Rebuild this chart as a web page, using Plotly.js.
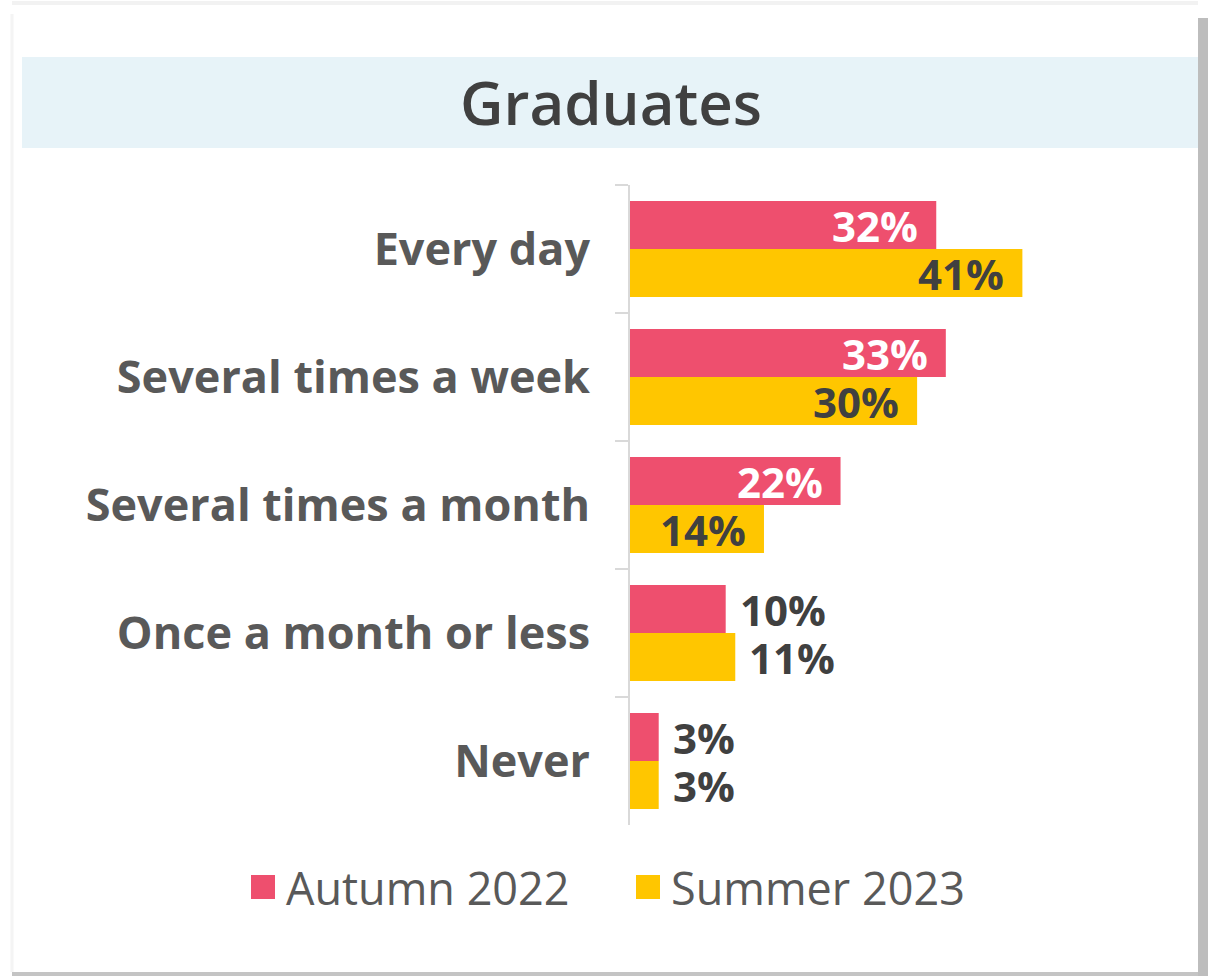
<!DOCTYPE html>
<html>
<head>
<meta charset="utf-8">
<script src="https://cdn.plot.ly/plotly-3.0.1.min.js"></script>
<style>
html,body{margin:0;padding:0;background:#fff;}
#chart{width:1208px;height:976px;}
</style>
</head>
<body>
<div id="chart"></div>
<script>
// ---- data ----
const categories = ["Every day", "Several times a week", "Several times a month", "Once a month or less", "Never"];
const seriesNames = ["Autumn 2022", "Summer 2023"];
const autumn2022 = [32, 33, 22, 10, 3];
const summer2023 = [41, 30, 14, 11, 3];
const chartTitle = "Graduates";

// ---- styling ----
const W = 1208, H = 976;
const M = {l: 630, r: 10, t: 185, b: 151};
const colors = ["#EE4F6E", "#FFC600"];
const insideColors = ["#FFFFFF", "#404040"];
const FONT = "Open Sans, sans-serif";
const valueSize = 42;
const catSize = 45;
const plotW = W - M.l - M.r, plotH = H - M.t - M.b;
const px2x = px => (px - M.l) / plotW;
const px2y = py => 1 - (py - M.t) / plotH;

const series = [autumn2022, summer2023];
const traces = series.map((vals, i) => ({
  type: "bar",
  orientation: "h",
  name: seriesNames[i],
  y: categories,
  x: vals,
  marker: {color: colors[i]},
  showlegend: false,
  hoverinfo: "skip"
}));

const annotations = [];
series.forEach((vals, i) => {
  vals.forEach((v, j) => {
    const inside = v > 12;
    annotations.push({
      x: v, y: categories[j], xref: "x", yref: "y",
      text: "<b>" + v + "%</b>",
      showarrow: false,
      height: 46, valign: "middle",
      xanchor: inside ? "right" : "left",
      xshift: inside ? -16 : 12,
      yshift: i === 0 ? 24 : -24,
      font: {family: FONT, size: valueSize, color: inside ? insideColors[i] : "#404040"}
    });
  });
});

// manual legend
const legendX = [251, 636];
const legendY = 887;
const shapes = [
  // title banner
  {type: "rect", xref: "paper", yref: "paper", x0: px2x(22), x1: px2x(1200), y0: px2y(148), y1: px2y(57),
   fillcolor: "#E7F3F8", line: {width: 0}, layer: "below"},
  // frame shadow right
  {type: "rect", xref: "paper", yref: "paper", x0: px2x(1198), x1: px2x(1208), y0: px2y(976), y1: px2y(18),
   fillcolor: "#BDBDBD", line: {width: 0}, layer: "below"},
  // frame shadow bottom
  {type: "rect", xref: "paper", yref: "paper", x0: px2x(12), x1: px2x(1198), y0: px2y(976), y1: px2y(972),
   fillcolor: "#C4C4C4", line: {width: 0}, layer: "below"},
  // faint top/left edges
  {type: "line", xref: "paper", yref: "paper", x0: px2x(12), x1: px2x(1198), y0: px2y(3), y1: px2y(3),
   line: {color: "#F2F2F2", width: 4}, layer: "below"},
  {type: "line", xref: "paper", yref: "paper", x0: px2x(12), x1: px2x(12), y0: px2y(14), y1: px2y(972),
   line: {color: "#F4F4F4", width: 3}, layer: "below"}
];
seriesNames.forEach((n, i) => {
  shapes.push({type: "rect", xref: "paper", yref: "paper",
    x0: px2x(legendX[i]), x1: px2x(legendX[i] + 24), y0: px2y(legendY + 12), y1: px2y(legendY - 12),
    fillcolor: colors[i], line: {width: 0}});
  annotations.push({xref: "paper", yref: "paper", x: px2x(legendX[i] + 33), y: px2y(legendY),
    xanchor: "left", yanchor: "middle", showarrow: false, text: n,
    font: {family: FONT, size: 45, color: "#595959"}});
});

const layout = {
  width: W, height: H,
  margin: M,
  paper_bgcolor: "#FFFFFF",
  plot_bgcolor: "rgba(0,0,0,0)",
  barmode: "group",
  bargap: 0.25,
  bargroupgap: 0,
  title: {
    text: chartTitle,
    font: {family: FONT, size: 60, color: "#404040", weight: 600},
    x: 611 / W, xref: "container", xanchor: "center",
    y: 1 - 104 / H, yref: "container", yanchor: "middle"
  },
  xaxis: {range: [0, 59.35], visible: false, fixedrange: true},
  yaxis: {
    autorange: "reversed",
    showline: true, linecolor: "#D9D9D9", linewidth: 2,
    ticks: "outside", ticklen: 13, tickcolor: "#D9D9D9", tickwidth: 2,
    tickson: "boundaries",
    ticklabelstandoff: 29,
    showgrid: false, zeroline: false,
    tickfont: {family: FONT, size: catSize, color: "#595959", weight: 700},
    fixedrange: true
  },
  shapes: shapes,
  annotations: annotations,
  showlegend: false
};

Plotly.newPlot("chart", traces, layout, {displayModeBar: false, staticPlot: true});
</script>
</body>
</html>
